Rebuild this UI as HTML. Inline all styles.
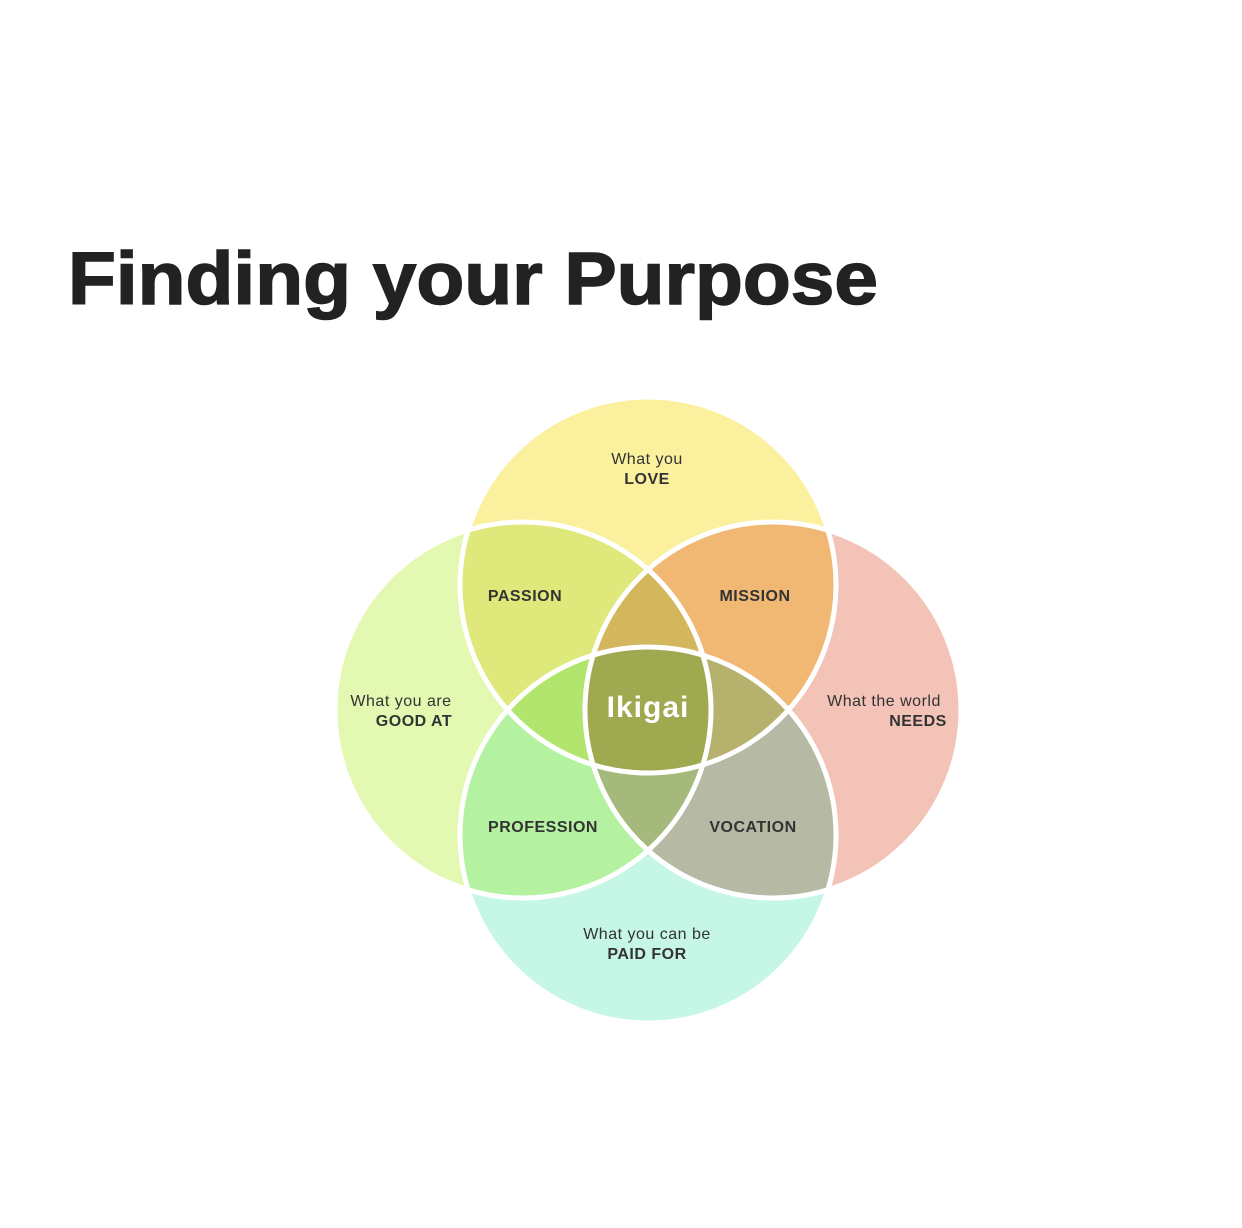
<!DOCTYPE html>
<html><head><meta charset="utf-8"><style>
html,body{margin:0;padding:0;background:#fff;}
svg{display:block;}
text{font-family:"Liberation Sans",sans-serif;}
</style></head><body>
<svg width="1242" height="1228" viewBox="0 0 1242 1228" xmlns="http://www.w3.org/2000/svg">
<defs>
<clipPath id="cT"><circle cx="648" cy="585" r="188"/></clipPath>
<clipPath id="cL"><circle cx="523" cy="710" r="188"/></clipPath>
<clipPath id="cR"><circle cx="773" cy="710" r="188"/></clipPath>
<clipPath id="cB"><circle cx="648" cy="835" r="188"/></clipPath>
</defs>
<text x="68" y="304" font-size="74" font-weight="bold" fill="#222" stroke="#222" stroke-width="1.5" textLength="810" lengthAdjust="spacingAndGlyphs">Finding your Purpose</text>

<circle cx="648" cy="585" r="188" fill="#fbf09e"/>
<circle cx="523" cy="710" r="188" fill="#e3f8b0"/>
<circle cx="773" cy="710" r="188" fill="#f3c3b7"/>
<circle cx="648" cy="835" r="188" fill="#c5f6e6"/>
<g clip-path="url(#cT)"><circle cx="523" cy="710" r="188" fill="#dfe97b"/></g>
<g clip-path="url(#cT)"><circle cx="773" cy="710" r="188" fill="#f1b874"/></g>
<g clip-path="url(#cB)"><circle cx="523" cy="710" r="188" fill="#b4f1a0"/></g>
<g clip-path="url(#cB)"><circle cx="773" cy="710" r="188" fill="#b6b9a3"/></g>
<g clip-path="url(#cT)"><g clip-path="url(#cL)"><circle cx="773" cy="710" r="188" fill="#d4b65d"/></g></g>
<g clip-path="url(#cT)"><g clip-path="url(#cL)"><circle cx="648" cy="835" r="188" fill="#b1e56d"/></g></g>
<g clip-path="url(#cT)"><g clip-path="url(#cR)"><circle cx="648" cy="835" r="188" fill="#b6b16c"/></g></g>
<g clip-path="url(#cB)"><g clip-path="url(#cL)"><circle cx="773" cy="710" r="188" fill="#a4b97b"/></g></g>
<g clip-path="url(#cT)"><g clip-path="url(#cL)"><g clip-path="url(#cR)"><circle cx="648" cy="835" r="188" fill="#9fa94f"/></g></g></g>
<g fill="none" stroke="#fff" stroke-width="5">
<circle cx="648" cy="585" r="188"/>
<circle cx="523" cy="710" r="188"/>
<circle cx="773" cy="710" r="188"/>
<circle cx="648" cy="835" r="188"/>
</g>

<g font-size="16" fill="#333" text-anchor="middle" letter-spacing="0.5">
<text x="647" y="464">What you</text>
<text x="647" y="484" font-weight="bold">LOVE</text>
<text x="401" y="706">What you are</text>
<text x="414" y="726" font-weight="bold">GOOD AT</text>
<text x="884" y="706">What the world</text>
<text x="918" y="726" font-weight="bold">NEEDS</text>
<text x="647" y="939">What you can be</text>
<text x="647" y="959" font-weight="bold">PAID FOR</text>
<text x="525" y="601" font-weight="bold">PASSION</text>
<text x="755" y="601" font-weight="bold">MISSION</text>
<text x="543" y="832" font-weight="bold">PROFESSION</text>
<text x="753" y="832" font-weight="bold">VOCATION</text>
</g>
<text x="648" y="717" font-size="30" font-weight="bold" fill="#fff" text-anchor="middle" letter-spacing="1">Ikigai</text>
</svg>
</body></html>
